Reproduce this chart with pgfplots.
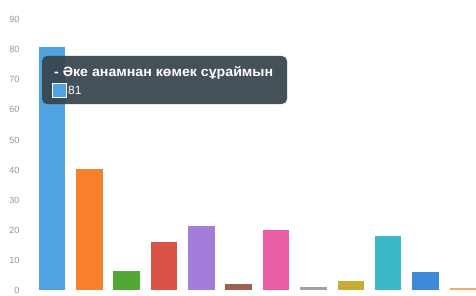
\documentclass[border=0pt]{standalone}
\usepackage{fontspec}
\setmainfont{Liberation Sans}
\usepackage{pgfplots}
\pgfplotsset{compat=1.18}
\definecolor{c1}{HTML}{4FA3E2}
\definecolor{c2}{HTML}{F6802C}
\definecolor{c3}{HTML}{52A834}
\definecolor{c4}{HTML}{DA5145}
\definecolor{c5}{HTML}{A47CDA}
\definecolor{c6}{HTML}{9C6150}
\definecolor{c7}{HTML}{EA5CA6}
\definecolor{c8}{HTML}{A2A2A2}
\definecolor{c9}{HTML}{C9AA32}
\definecolor{c10}{HTML}{3BB9C9}
\definecolor{c11}{HTML}{3E8ADA}
\definecolor{c12}{HTML}{F2AA6C}
\definecolor{tip}{HTML}{36444C}
\begin{document}
\begin{tikzpicture}[x=1pt,y=1pt]
\useasboundingbox (-37,0) rectangle (439,295);
\begin{axis}[
  at={(0,0)}, anchor=south west,
  scale only axis, width=439pt, height=295pt,
  xmin=-0.4, xmax=11.35, ymin=-1.5, ymax=96.5,
  xtick=\empty,
  ytick={0,10,...,90},
  axis line style={draw=none},
  major tick length=0pt,
  /pgf/number format/assume math mode=true,
  yticklabel style={text=black!42, font=\fontsize{9}{10}\selectfont, xshift=-14pt},
  every axis plot/.append style={ybar, bar width=0.71, bar shift=0pt, draw=none},
]
\addplot[fill=c1] coordinates {(0,81)};
\addplot[fill=c2] coordinates {(1,40.5)};
\addplot[fill=c3] coordinates {(2,6.5)};
\addplot[fill=c4] coordinates {(3,16)};
\addplot[fill=c5] coordinates {(4,21.3)};
\addplot[fill=c6] coordinates {(5,2.2)};
\addplot[fill=c7] coordinates {(6,20)};
\addplot[fill=c8] coordinates {(7,1.2)};
\addplot[fill=c9] coordinates {(8,3.3)};
\addplot[fill=c10] coordinates {(9,18)};
\addplot[fill=c11] coordinates {(10,6)};
\addplot[fill=c12] coordinates {(11,0.7)};
\end{axis}
\fill[tip, opacity=0.93, rounded corners=5pt] (5,191) rectangle (250,239);
\node[anchor=west, inner sep=0pt, text=white, xscale=1.05, font=\bfseries\fontsize{13.5}{14}\selectfont] at (17,222) {- Әке анамнан көмек сұраймын};
\fill[c1] (15,198) rectangle (29,212);
\draw[white, line width=0.6pt] (15,198) rectangle (29,212);
\node[anchor=west, inner sep=0pt, text=white, font=\fontsize{12}{13}\selectfont] at (31,205) {81};
\end{tikzpicture}
\end{document}
